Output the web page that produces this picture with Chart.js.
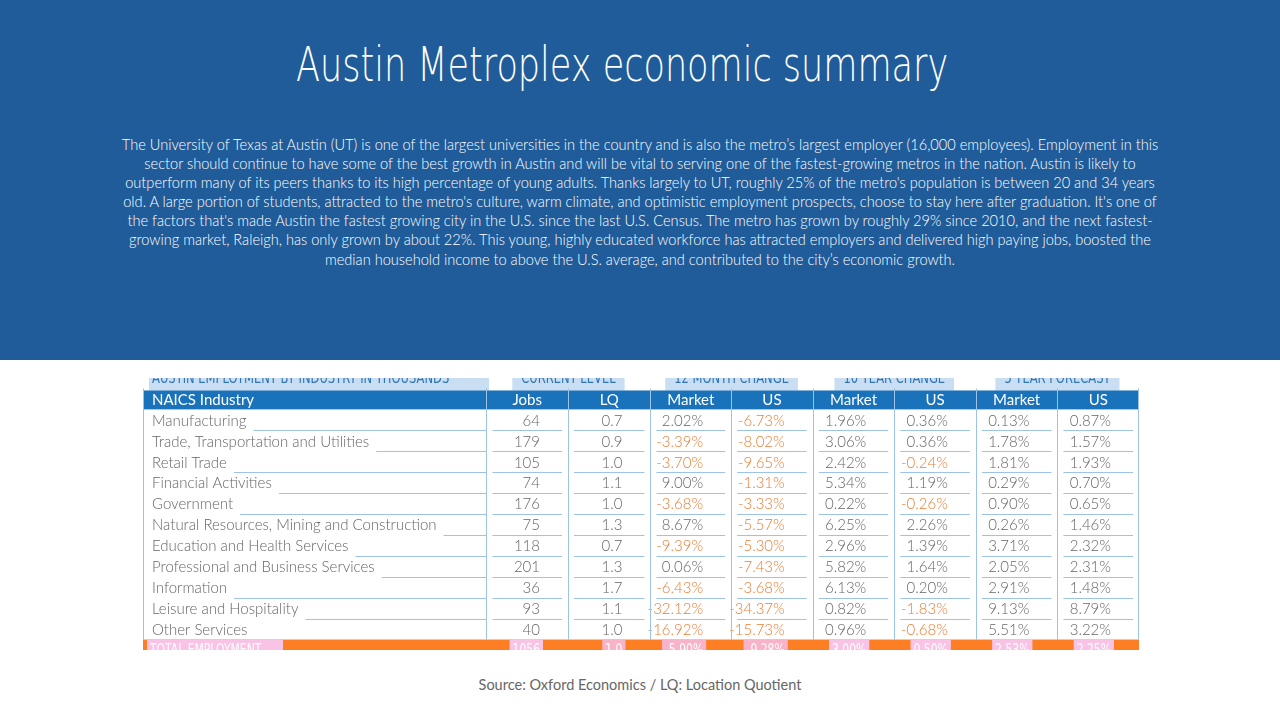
<!DOCTYPE html>
<html>
<head>
<meta charset="utf-8">
<script src="https://cdn.jsdelivr.net/npm/chart.js@4"></script>
<style>
  body { margin: 0; width: 1280px; height: 720px; background: #fff; position: relative; overflow: hidden; font-family: Lato, sans-serif; }
  #top { position: absolute; left: 0; top: 0; width: 1280px; height: 360px; background: #1f5c99; }
  #title { position: absolute; left: 296px; top: 36px; color: #fff; font-family: "DejaVu Sans", sans-serif; font-weight: 300; font-size: 48px; transform: scaleX(0.73); transform-origin: left top; white-space: nowrap; }
  #intro { position: absolute; left: 115px; top: 135px; width: 1050px; color: #fff; text-align: center; font-size: 14.6px; line-height: 19.1px; font-weight: 300; }
  #tbl { position: absolute; left: 60px; top: 378px; }
  #source { position: absolute; left: 0; width: 1280px; top: 676px; text-align: center; color: #666; font-size: 14.5px; }
</style>
</head>
<body>
<div id="top">
  <div id="title">Austin Metroplex economic summary</div>
  <div id="intro">The University of Texas at Austin (UT) is one of the largest universities in the country and is also the metro’s largest employer (16,000 employees). Employment in this sector should continue to have some of the best growth in Austin and will be vital to serving one of the fastest-growing metros in the nation. Austin is likely to outperform many of its peers thanks to its high percentage of young adults. Thanks largely to UT, roughly 25% of the metro's population is between 20 and 34 years old. A large portion of students, attracted to the metro's culture, warm climate, and optimistic employment prospects, choose to stay here after graduation. It's one of the factors that's made Austin the fastest growing city in the U.S. since the last U.S. Census. The metro has grown by roughly 29% since 2010, and the next fastest-growing market, Raleigh, has only grown by about 22%. This young, highly educated workforce has attracted employers and delivered high paying jobs, boosted the median household income to above the U.S. average, and contributed to the city’s economic growth.</div>
</div>
<canvas id="tbl" width="1162" height="272"></canvas>
<div id="source">Source: Oxford Economics / LQ: Location Quotient</div>
<script>
const groups = ['AUSTIN EMPLOYMENT BY INDUSTRY IN THOUSANDS', 'CURRENT LEVEL', '12 MONTH CHANGE', '10 YEAR CHANGE', '5 YEAR FORECAST']
const columns = ['NAICS Industry', 'Jobs', 'LQ', 'Market', 'US', 'Market', 'US', 'Market', 'US']
const industries = ['Manufacturing', 'Trade, Transportation and Utilities', 'Retail Trade', 'Financial Activities', 'Government',
  'Natural Resources, Mining and Construction', 'Education and Health Services', 'Professional and Business Services',
  'Information', 'Leisure and Hospitality', 'Other Services']
const jobs = [64, 179, 105, 74, 176, 75, 118, 201, 36, 93, 40]
const lq = ['0.7', '0.9', '1.0', '1.1', '1.0', '1.3', '0.7', '1.3', '1.7', '1.1', '1.0']
const month12Market = [2.02, -3.39, -3.70, 9.00, -3.68, 8.67, -9.39, 0.06, -6.43, -32.12, -16.92]
const month12US = [-6.73, -8.02, -9.65, -1.31, -3.33, -5.57, -5.30, -7.43, -3.68, -34.37, -15.73]
const year10Market = [1.96, 3.06, 2.42, 5.34, 0.22, 6.25, 2.96, 5.82, 6.13, 0.82, 0.96]
const year10US = [0.36, 0.36, -0.24, 1.19, -0.26, 2.26, 1.39, 1.64, 0.20, -1.83, -0.68]
const forecastMarket = [0.13, 1.78, 1.81, 0.29, 0.90, 0.26, 3.71, 2.05, 2.91, 9.13, 5.51]
const forecastUS = [0.87, 1.57, 1.93, 0.70, 0.65, 1.46, 2.32, 2.31, 1.48, 8.79, 3.22]
const totals = ['TOTAL EMPLOYMENT', '1056', '1.0', '-5.90%', '-9.28%', '3.00%', '0.50%', '2.53%', '2.25%']

// column edges in table units (x scale), rows on category y scale
const colEdges = [0, 400, 495, 591, 685, 780, 875, 970, 1065, 1160]
const groupSpans = [[0, 1, 340], [1, 3, 0], [3, 5, 0], [5, 7, 0], [7, 9, 0]]
const rowKeys = ['group', 'head'].concat(industries, ['total'])

const pct = v => v.toFixed(2) + '%'
const SQ = 0.72

// condensed text: squeeze horizontally
function narrow(ctx, t, x, y, align) {
  const w = ctx.measureText(t).width * SQ
  const lx = align === 'center' ? x - w / 2 : align === 'right' ? x - w : x
  ctx.save()
  ctx.translate(lx, y)
  ctx.scale(SQ, 1)
  ctx.textAlign = 'left'
  ctx.fillText(t, 0, 0)
  ctx.restore()
  return w
}

const tablePlugin = {
  id: 'table',
  afterDraw(chart) {
    const ctx = chart.ctx, x = chart.scales.x, y = chart.scales.y
    const rh = y.getPixelForValue(1) - y.getPixelForValue(0)
    const top = i => y.getPixelForValue(i) - rh / 2
    const X = v => x.getPixelForValue(v)
    ctx.save()
    ctx.textBaseline = 'middle'
    // group header
    groupSpans.forEach((g, i) => {
      const l = X(colEdges[g[0]]), r = X(colEdges[g[1]])
      ctx.font = '16px "DejaVu Sans"'
      const tw = ctx.measureText(groups[i]).width * SQ
      let bx, bw
      if (i === 0) { bx = l + 6; bw = g[2] } else { bw = tw + 18; bx = (l + r) / 2 - bw / 2 }
      ctx.fillStyle = '#c9def2'
      ctx.fillRect(bx, top(0) - 2, bw, rh + 4)
      ctx.fillStyle = '#2e75b6'
      if (i === 0) narrow(ctx, groups[i], bx + 3, y.getPixelForValue(0) + 1, 'left')
      else narrow(ctx, groups[i], (l + r) / 2, y.getPixelForValue(0) + 1, 'center')
    })
    // column header band
    ctx.fillStyle = '#1a72bb'
    ctx.fillRect(X(0), top(1) + 2, X(1160) - X(0), rh - 2)
    ctx.font = '15px Lato'
    ctx.fillStyle = '#fff'
    columns.forEach((c, j) => {
      if (j === 0) { ctx.textAlign = 'left'; ctx.fillText(c, X(0) + 9, y.getPixelForValue(1) + 1) }
      else { ctx.textAlign = 'center'; ctx.fillText(c, (X(colEdges[j]) + X(colEdges[j + 1])) / 2, y.getPixelForValue(1) + 1) }
    })
    // body rows
    ctx.strokeStyle = '#9dc3e6'
    ctx.lineWidth = 1
    industries.forEach((name, i) => {
      const r = i + 2, cy = y.getPixelForValue(r) + 1
      const cells = [name, String(jobs[i]), lq[i], pct(month12Market[i]), pct(month12US[i]),
        pct(year10Market[i]), pct(year10US[i]), pct(forecastMarket[i]), pct(forecastUS[i])]
      const nums = [0, 0, 0, month12Market[i], month12US[i], year10Market[i], year10US[i], forecastMarket[i], forecastUS[i]]
      ctx.font = '300 15px Lato'
      cells.forEach((t, j) => {
        ctx.fillStyle = nums[j] < 0 ? '#ed7d31' : '#666'
        if (j === 0) { ctx.textAlign = 'left'; ctx.fillText(t, X(0) + 9, cy) }
        else { ctx.textAlign = 'right'; ctx.fillText(t, X(colEdges[j + 1]) - 28, cy) }
      })
      const by = Math.round(top(r) + rh) + 0.5
      const nw = ctx.measureText(name).width
      ctx.beginPath()
      ctx.moveTo(X(0) + nw + 16, by); ctx.lineTo(X(colEdges[1]), by)
      for (let j = 1; j < 9; j++) { ctx.moveTo(X(colEdges[j]) + 6, by); ctx.lineTo(X(colEdges[j + 1]) - 6, by) }
      ctx.stroke()
    })
    // vertical lines
    ctx.beginPath()
    colEdges.forEach(e => { const px = Math.min(Math.round(X(e)) + 0.5, X(1160) - 0.5); ctx.moveTo(px, top(1)); ctx.lineTo(px, top(13)) })
    ctx.moveTo(X(0), top(0) - 1.5); ctx.lineTo(X(1160), top(0) - 1.5)
    ctx.stroke()
    // total row
    const ty = top(13)
    ctx.fillStyle = '#fd7e23'
    ctx.fillRect(X(0), ty, X(1160) - X(0), rh)
    ctx.fillStyle = '#b7b7b7'
    ctx.fillRect(X(0), ty + rh - 2, X(1160) - X(0), 2)
    ctx.font = '15px "DejaVu Sans"'
    totals.forEach((t, j) => {
      const tw = ctx.measureText(t).width * SQ
      const bx = j === 0 ? X(0) + 4 : X(colEdges[j + 1]) - 28 - tw - 3
      ctx.fillStyle = j === 2 || j === 3 || j === 4 ? '#f9b3c8' : '#f9c3e6'
      ctx.fillRect(bx, ty, j === 0 ? 136 : tw + 6, rh)
      ctx.fillStyle = '#fff'
      narrow(ctx, t, bx + 3, ty + rh / 2 + 1, 'left')
    })
    ctx.restore()
  }
}

new Chart(document.getElementById('tbl'), {
  type: 'bar',
  data: { labels: rowKeys, datasets: [{ data: [], backgroundColor: 'transparent' }] },
  options: {
    responsive: false,
    animation: false,
    devicePixelRatio: 1,
    layout: { padding: 0 },
    plugins: { legend: { display: false }, tooltip: { enabled: false } },
    scales: {
      x: { type: 'linear', min: 0, max: 1160, display: false },
      y: { type: 'category', display: false }
    }
  },
  plugins: [tablePlugin]
})
</script>
</body>
</html>
